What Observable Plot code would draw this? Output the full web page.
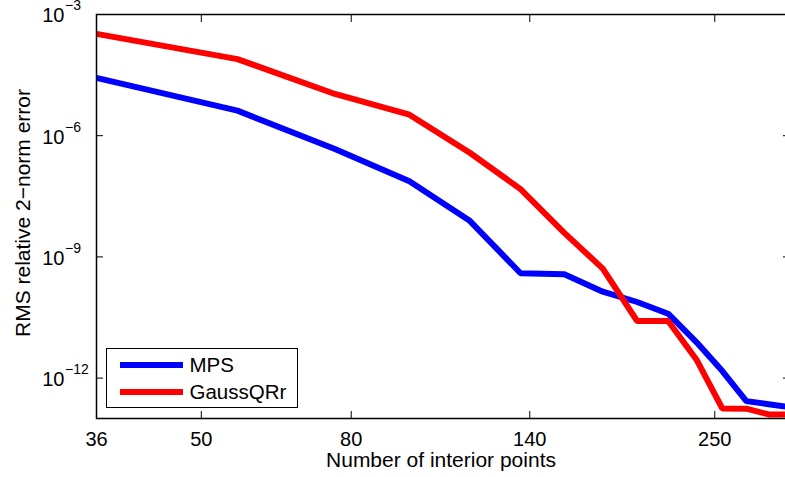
<!DOCTYPE html>
<html>
<head>
<meta charset="utf-8">
<script src="https://cdn.jsdelivr.net/npm/d3@7"></script>
<script src="https://cdn.jsdelivr.net/npm/@observablehq/plot@0.6"></script>
<style>
  html, body { margin: 0; padding: 0; background: white; overflow: hidden; }
  #wrap { position: relative; width: 785px; height: 477px; font-family: "Liberation Sans", Arial, Helvetica, sans-serif; }
  #legend { position: absolute; left: 105.5px; top: 348px; width: 190px; height: 58px; border: 1.2px solid black; background: white; }
  .item { position: absolute; left: 0; height: 26px; width: 190px; }
  .swatch { position: absolute; left: 13.5px; width: 63px; height: 6px; }
  .lab { position: absolute; left: 83px; font-size: 20.5px; line-height: 20px; color: black; }
</style>
</head>
<body>
<div id="wrap"></div>
<script>
const points = [36, 56, 76, 96, 116, 136, 156, 176, 196, 216, 236, 256, 276, 296, 316];
const mps = [2.69e-5, 4.17e-6, 4.68e-7, 7.44e-8, 7.80e-9, 3.94e-10, 3.72e-10, 1.38e-10, 7.65e-11, 3.93e-11, 7.80e-12, 1.49e-12, 2.69e-13, 2.26e-13, 1.91e-13];
const gaussqr = [3.32e-4, 7.88e-5, 1.08e-5, 3.31e-6, 3.79e-7, 4.77e-8, 3.94e-9, 5.13e-10, 2.59e-11, 2.59e-11, 2.90e-12, 1.77e-13, 1.75e-13, 1.26e-13, 1.26e-13];
const seriesNames = ["MPS", "GaussQRr"];
const seriesColors = ["#0000ff", "#ff0000"];
const xTicks = [36, 50, 80, 140, 250];
const yTicks = [1e-12, 1e-9, 1e-6, 1e-3];
const yTickExp = ["\u221212", "\u22129", "\u22126", "\u22123"];
const xLabel = "Number of interior points";
const yLabel = "RMS relative 2\u2212norm error";

const rows = [];
points.forEach((p, i) => {
  rows.push({x: p, y: mps[i], s: seriesNames[0]});
});
points.forEach((p, i) => {
  rows.push({x: p, y: gaussqr[i], s: seriesNames[1]});
});

const font = "Liberation Sans, Arial, Helvetica, sans-serif";

const chart = Plot.plot({
  width: 785,
  height: 477,
  marginLeft: 96,
  marginRight: -4,
  marginTop: 14,
  marginBottom: 59,
  style: {fontFamily: font, background: "white", color: "black", overflow: "visible"},
  x: {type: "log", domain: [36, 316]},
  y: {type: "log", domain: [1e-13, 1e-3]},
  color: {domain: seriesNames, range: seriesColors},
  marks: [
    Plot.line(rows, {x: "x", y: "y", z: "s", stroke: "s", strokeWidth: 6, strokeLinejoin: "miter", strokeLinecap: "butt"}),
    Plot.frame({stroke: "black", strokeWidth: 1.5}),
    Plot.axisX(xTicks, {anchor: "bottom", tickSize: -7, tickFormat: () => "", label: null, strokeWidth: 1}),
    Plot.axisX(xTicks, {anchor: "top", tickSize: -7, tickFormat: () => "", label: null, strokeWidth: 1}),
    Plot.axisY(yTicks, {anchor: "left", tickSize: -7, tickFormat: () => "", label: null, strokeWidth: 1}),
    Plot.axisY(yTicks, {anchor: "right", tickSize: -7, tickFormat: () => "", label: null, strokeWidth: 1}),
    Plot.text(xTicks, {x: d => d, text: d => String(d), frameAnchor: "bottom", lineAnchor: "middle", textAnchor: "middle", dy: 20.6, fontSize: 20, fill: "black"}),
    Plot.text(yTicks, {y: d => d, text: () => "10", frameAnchor: "left", lineAnchor: "middle", textAnchor: "end", dx: -32, dy: 1.5, fontSize: 20, fill: "black"}),
    Plot.text(yTicks, {y: d => d, text: (d, i) => yTickExp[i], frameAnchor: "left", lineAnchor: "middle", textAnchor: "start", dx: -31.5, dy: -8.5, fontSize: 14, fill: "black"}),
    Plot.text([xLabel], {text: d => d, frameAnchor: "bottom", lineAnchor: "middle", textAnchor: "middle", dx: -2, dy: 42, fontSize: 21, fill: "black"}),
    Plot.text([yLabel], {text: d => d, frameAnchor: "left", lineAnchor: "middle", textAnchor: "middle", rotate: -90, dx: -73.7, dy: -3.5, fontSize: 21, fill: "black"})
  ]
});

const wrap = document.getElementById("wrap");
wrap.appendChild(chart);

const legend = document.createElement("div");
legend.id = "legend";
seriesNames.forEach((name, i) => {
  const item = document.createElement("div");
  item.className = "item";
  item.style.top = (i * 26.5 + 3) + "px";
  const sw = document.createElement("div");
  sw.className = "swatch";
  sw.style.background = seriesColors[i];
  sw.style.top = "10px";
  const lb = document.createElement("div");
  lb.className = "lab";
  lb.textContent = name;
  lb.style.top = "3px";
  item.appendChild(sw);
  item.appendChild(lb);
  legend.appendChild(item);
});
wrap.appendChild(legend);
</script>
</body>
</html>
